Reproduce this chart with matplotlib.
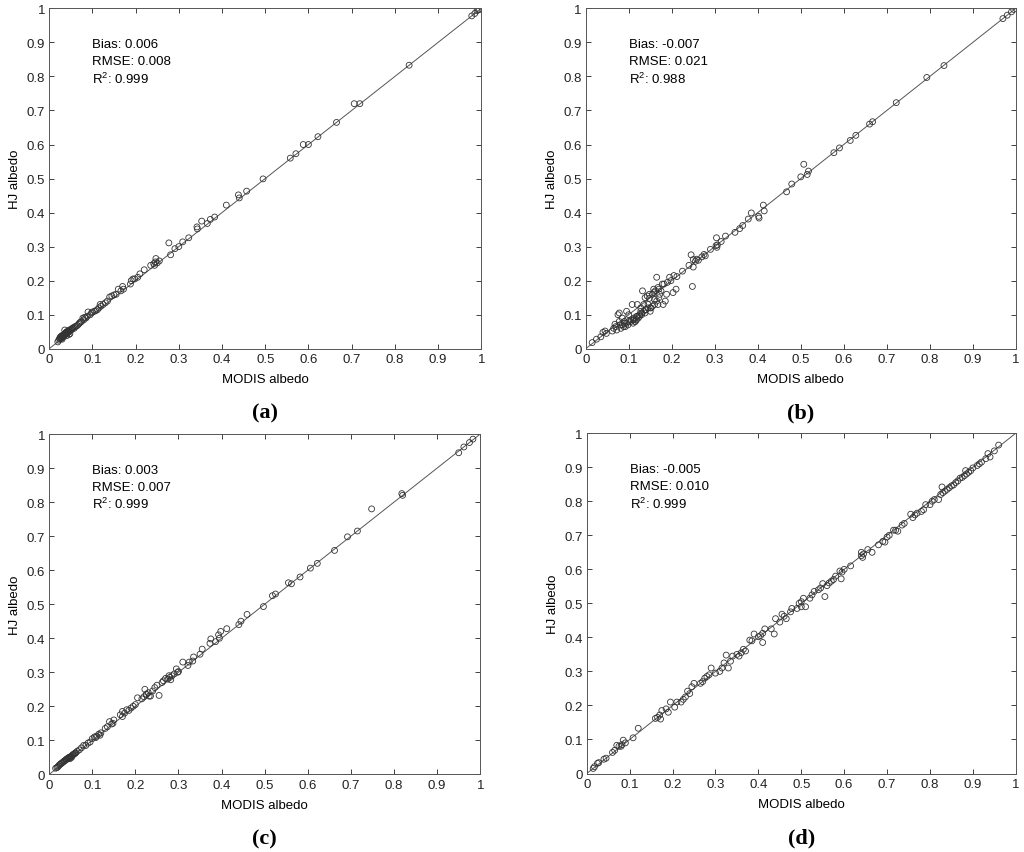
import matplotlib
matplotlib.use("Agg")
import matplotlib.pyplot as plt

plt.rcParams['font.family'] = ['Liberation Sans', 'DejaVu Sans']
plt.rcParams['mathtext.fontset'] = 'custom'
plt.rcParams['mathtext.rm'] = 'Liberation Sans'
plt.rcParams['mathtext.it'] = 'Liberation Sans:italic'

# ---------------------------------------------------------
# data (MODIS albedo, HJ albedo)

modis_a = [0.020, 0.022, 0.024, 0.025, 0.026, 0.027, 0.028, 0.029, 0.030, 0.031,
           0.032, 0.033, 0.034, 0.035, 0.036, 0.037, 0.038, 0.039, 0.040, 0.041,
           0.042, 0.043, 0.044, 0.045, 0.046, 0.048, 0.050, 0.052, 0.054, 0.056,
           0.058, 0.060, 0.062, 0.065, 0.068, 0.070, 0.072, 0.075, 0.078, 0.080,
           0.082, 0.085, 0.088, 0.090, 0.095, 0.098, 0.100, 0.105, 0.108, 0.112,
           0.115, 0.118, 0.120, 0.125, 0.130, 0.135, 0.140, 0.145, 0.150, 0.155,
           0.160, 0.166, 0.170, 0.172, 0.188, 0.190, 0.194, 0.198, 0.205, 0.210,
           0.220, 0.235, 0.242, 0.244, 0.246, 0.247, 0.250, 0.255, 0.277, 0.281,
           0.291, 0.300, 0.309, 0.323, 0.342, 0.343, 0.353, 0.366, 0.373, 0.383,
           0.410, 0.438, 0.440, 0.457, 0.495, 0.558, 0.571, 0.588, 0.600, 0.622,
           0.665, 0.706, 0.719, 0.833, 0.978, 0.985, 0.990, 0.993, 0.996,
           0.030, 0.034, 0.036, 0.040, 0.044, 0.048, 0.052, 0.038, 0.042, 0.046]
hj_a = [0.020, 0.025, 0.030, 0.028, 0.035, 0.030, 0.033, 0.038, 0.032, 0.036,
        0.040, 0.038, 0.042, 0.040, 0.055, 0.045, 0.043, 0.048, 0.045, 0.050,
        0.046, 0.048, 0.052, 0.050, 0.055, 0.053, 0.055, 0.058, 0.060, 0.062,
        0.060, 0.065, 0.066, 0.068, 0.072, 0.075, 0.078, 0.080, 0.090, 0.085,
        0.092, 0.090, 0.095, 0.108, 0.100, 0.105, 0.108, 0.110, 0.112, 0.115,
        0.120, 0.130, 0.125, 0.130, 0.135, 0.140, 0.152, 0.155, 0.158, 0.160,
        0.175, 0.170, 0.183, 0.175, 0.190, 0.200, 0.205, 0.205, 0.210, 0.220,
        0.232, 0.245, 0.250, 0.245, 0.255, 0.265, 0.252, 0.258, 0.311, 0.276,
        0.294, 0.300, 0.314, 0.326, 0.358, 0.352, 0.375, 0.368, 0.380, 0.387,
        0.422, 0.452, 0.443, 0.463, 0.499, 0.560, 0.573, 0.600, 0.600, 0.623,
        0.665, 0.720, 0.720, 0.833, 0.978, 0.985, 0.993, 0.996, 0.997,
        0.028, 0.036, 0.042, 0.038, 0.048, 0.044, 0.056, 0.046, 0.050, 0.042]

modis_b = [0.015, 0.025, 0.035, 0.040, 0.045, 0.048, 0.062, 0.065, 0.070, 0.072,
           0.075, 0.078, 0.080, 0.082, 0.085, 0.088, 0.090, 0.092, 0.095, 0.098,
           0.100, 0.105, 0.108, 0.110, 0.112, 0.115, 0.118, 0.120, 0.122, 0.125,
           0.128, 0.130, 0.132, 0.135, 0.138, 0.140, 0.143, 0.145, 0.148, 0.150,
           0.152, 0.155, 0.158, 0.160, 0.162, 0.165, 0.168, 0.170, 0.175, 0.178,
           0.180, 0.185, 0.190, 0.195, 0.198, 0.203, 0.205, 0.210, 0.212, 0.225,
           0.240, 0.245, 0.248, 0.250, 0.250, 0.255, 0.258, 0.262, 0.270, 0.275,
           0.278, 0.290, 0.303, 0.304, 0.305, 0.306, 0.315, 0.325, 0.347, 0.358,
           0.365, 0.378, 0.385, 0.402, 0.403, 0.413, 0.415, 0.467, 0.479, 0.500,
           0.507, 0.515, 0.518, 0.577, 0.590, 0.615, 0.628, 0.660, 0.667, 0.722,
           0.793, 0.833, 0.970, 0.980, 0.990, 0.995,
           0.105, 0.110, 0.115, 0.120, 0.125, 0.130, 0.135, 0.140, 0.145, 0.150,
           0.155, 0.160, 0.165, 0.170, 0.100, 0.095, 0.090, 0.112, 0.118, 0.128,
           0.138, 0.148, 0.158, 0.168, 0.172, 0.182, 0.188, 0.085, 0.078, 0.068]
hj_b = [0.018, 0.028, 0.035, 0.048, 0.052, 0.045, 0.052, 0.060, 0.065, 0.055,
        0.100, 0.105, 0.070, 0.060, 0.090, 0.065, 0.075, 0.065, 0.110, 0.070,
        0.100, 0.085, 0.130, 0.075, 0.090, 0.080, 0.085, 0.130, 0.090, 0.095,
        0.120, 0.100, 0.170, 0.130, 0.105, 0.115, 0.155, 0.130, 0.148, 0.110,
        0.120, 0.160, 0.175, 0.145, 0.170, 0.210, 0.130, 0.175, 0.170, 0.190,
        0.130, 0.140, 0.195, 0.210, 0.200, 0.165, 0.215, 0.175, 0.212, 0.228,
        0.245, 0.276, 0.183, 0.240, 0.262, 0.257, 0.263, 0.260, 0.270, 0.277,
        0.273, 0.292, 0.303, 0.326, 0.298, 0.305, 0.315, 0.331, 0.342, 0.353,
        0.362, 0.381, 0.399, 0.389, 0.384, 0.422, 0.405, 0.461, 0.484, 0.505,
        0.542, 0.512, 0.522, 0.576, 0.590, 0.612, 0.627, 0.660, 0.667, 0.723,
        0.797, 0.832, 0.970, 0.980, 0.990, 0.997,
        0.080, 0.085, 0.080, 0.095, 0.100, 0.105, 0.110, 0.115, 0.120, 0.120,
        0.125, 0.130, 0.140, 0.150, 0.080, 0.075, 0.080, 0.085, 0.095, 0.110,
        0.150, 0.160, 0.165, 0.180, 0.160, 0.190, 0.160, 0.070, 0.080, 0.072]

modis_c = [0.015, 0.018, 0.020, 0.022, 0.024, 0.026, 0.028, 0.030, 0.032, 0.034,
           0.036, 0.038, 0.040, 0.042, 0.044, 0.046, 0.048, 0.050, 0.052, 0.054,
           0.056, 0.058, 0.060, 0.062, 0.065, 0.070, 0.075, 0.080, 0.085, 0.090,
           0.095, 0.100, 0.105, 0.110, 0.115, 0.120, 0.130, 0.135, 0.140, 0.145,
           0.150, 0.165, 0.170, 0.170, 0.175, 0.180, 0.185, 0.190, 0.195, 0.200,
           0.205, 0.215, 0.220, 0.222, 0.225, 0.230, 0.235, 0.240, 0.245, 0.250,
           0.255, 0.262, 0.265, 0.270, 0.275, 0.280, 0.285, 0.290, 0.295, 0.300,
           0.310, 0.322, 0.325, 0.333, 0.335, 0.350, 0.355, 0.373, 0.375, 0.386,
           0.393, 0.395, 0.398, 0.412, 0.440, 0.445, 0.459, 0.497, 0.518, 0.525,
           0.555, 0.562, 0.582, 0.606, 0.622, 0.662, 0.692, 0.715, 0.748, 0.818,
           0.820, 0.950, 0.962, 0.975, 0.983,
           0.040, 0.045, 0.050, 0.055, 0.060, 0.048, 0.052, 0.226, 0.232, 0.278,
           0.282, 0.298, 0.108, 0.118, 0.148]
hj_c = [0.018, 0.020, 0.022, 0.025, 0.028, 0.030, 0.032, 0.034, 0.036, 0.038,
        0.040, 0.042, 0.044, 0.046, 0.048, 0.050, 0.050, 0.052, 0.054, 0.056,
        0.058, 0.060, 0.062, 0.064, 0.068, 0.072, 0.078, 0.085, 0.085, 0.092,
        0.095, 0.105, 0.110, 0.112, 0.118, 0.122, 0.135, 0.140, 0.155, 0.148,
        0.160, 0.175, 0.185, 0.170, 0.180, 0.190, 0.188, 0.195, 0.200, 0.205,
        0.225, 0.222, 0.228, 0.250, 0.235, 0.240, 0.230, 0.245, 0.255, 0.262,
        0.232, 0.270, 0.275, 0.282, 0.280, 0.285, 0.290, 0.295, 0.310, 0.302,
        0.330, 0.320, 0.330, 0.333, 0.345, 0.353, 0.368, 0.385, 0.398, 0.390,
        0.410, 0.400, 0.420, 0.428, 0.440, 0.450, 0.470, 0.493, 0.525, 0.530,
        0.563, 0.560, 0.580, 0.606, 0.620, 0.658, 0.698, 0.715, 0.780, 0.825,
        0.820, 0.945, 0.962, 0.975, 0.985,
        0.044, 0.048, 0.052, 0.058, 0.062, 0.046, 0.050, 0.235, 0.230, 0.290,
        0.278, 0.300, 0.108, 0.115, 0.150]

modis_d = [0.015, 0.018, 0.025, 0.028, 0.040, 0.045, 0.060, 0.065, 0.070, 0.075,
           0.080, 0.082, 0.085, 0.090, 0.108, 0.120, 0.160, 0.165, 0.170, 0.172,
           0.175, 0.185, 0.190, 0.195, 0.205, 0.210, 0.220, 0.225, 0.230, 0.235,
           0.240, 0.245, 0.250, 0.265, 0.270, 0.275, 0.280, 0.285, 0.290, 0.300,
           0.310, 0.315, 0.320, 0.325, 0.330, 0.335, 0.340, 0.350, 0.355, 0.360,
           0.365, 0.370, 0.380, 0.385, 0.390, 0.400, 0.405, 0.410, 0.410, 0.415,
           0.430, 0.437, 0.440, 0.450, 0.455, 0.460, 0.465, 0.475, 0.478, 0.490,
           0.495, 0.500, 0.500, 0.505, 0.510, 0.520, 0.525, 0.530, 0.540, 0.545,
           0.550, 0.555, 0.560, 0.565, 0.570, 0.575, 0.580, 0.593, 0.590, 0.595,
           0.600, 0.615, 0.640, 0.640, 0.643, 0.645, 0.655, 0.665, 0.680, 0.690,
           0.695, 0.700, 0.705, 0.715, 0.720, 0.725, 0.735, 0.740, 0.755, 0.760,
           0.765, 0.770, 0.780, 0.785, 0.790, 0.800, 0.805, 0.810, 0.820, 0.825,
           0.828, 0.830, 0.835, 0.840, 0.845, 0.850, 0.855, 0.860, 0.865, 0.870,
           0.875, 0.883, 0.880, 0.885, 0.890, 0.895, 0.900, 0.910, 0.915, 0.920,
           0.930, 0.935, 0.940, 0.950, 0.960]
hj_d = [0.015, 0.020, 0.030, 0.032, 0.042, 0.045, 0.062, 0.068, 0.083, 0.080,
        0.080, 0.085, 0.098, 0.090, 0.105, 0.133, 0.162, 0.165, 0.172, 0.160,
        0.185, 0.190, 0.180, 0.210, 0.195, 0.210, 0.210, 0.218, 0.225, 0.242,
        0.235, 0.255, 0.265, 0.265, 0.270, 0.280, 0.285, 0.290, 0.310, 0.295,
        0.300, 0.310, 0.325, 0.348, 0.310, 0.330, 0.345, 0.350, 0.345, 0.355,
        0.365, 0.360, 0.392, 0.390, 0.410, 0.402, 0.405, 0.385, 0.412, 0.425,
        0.425, 0.410, 0.455, 0.445, 0.468, 0.462, 0.455, 0.475, 0.485, 0.485,
        0.500, 0.490, 0.505, 0.515, 0.490, 0.515, 0.525, 0.535, 0.540, 0.545,
        0.558, 0.520, 0.552, 0.560, 0.565, 0.570, 0.580, 0.572, 0.595, 0.592,
        0.600, 0.610, 0.640, 0.650, 0.635, 0.645, 0.658, 0.650, 0.672, 0.682,
        0.680, 0.695, 0.700, 0.715, 0.715, 0.712, 0.730, 0.735, 0.762, 0.752,
        0.760, 0.765, 0.770, 0.775, 0.790, 0.790, 0.800, 0.805, 0.805, 0.820,
        0.842, 0.825, 0.830, 0.835, 0.840, 0.845, 0.848, 0.855, 0.860, 0.868,
        0.870, 0.890, 0.875, 0.880, 0.885, 0.890, 0.898, 0.905, 0.910, 0.915,
        0.925, 0.940, 0.930, 0.948, 0.965]

stats_a = ['Bias: 0.006', 'RMSE: 0.008', r'R$^{2}$: 0.999']
stats_b = ['Bias: -0.007', 'RMSE: 0.021', r'R$^{2}$: 0.988']
stats_c = ['Bias: 0.003', 'RMSE: 0.007', r'R$^{2}$: 0.999']
stats_d = ['Bias: -0.005', 'RMSE: 0.010', r'R$^{2}$: 0.999']

panel_labels = ['a', 'b', 'c', 'd']
ticks = [i / 10 for i in range(11)]
tick_labels = ['0', '0.1', '0.2', '0.3', '0.4', '0.5', '0.6', '0.7', '0.8', '0.9', '1']

#----------------------------------------------------------

def scatter_panel(rect, x, y, stats, label):
    ax = fig.add_axes(rect)
    ax.plot([0, 1], [0, 1], color='#555555', lw=0.7, zorder=1)
    ax.scatter(x, y, s=18, facecolors='none', edgecolors='#333333',
               linewidths=0.6, zorder=2)
    ax.set_xlim(0, 1)
    ax.set_ylim(0, 1)
    ax.set_xticks(ticks)
    ax.set_yticks(ticks)
    ax.set_xticklabels(tick_labels)
    ax.set_yticklabels(tick_labels)
    ax.tick_params(direction='in', length=3.5, width=0.6, top=True, right=True,
                   labelsize=9.5, colors='#222222', pad=3)
    for sp in ax.spines.values():
        sp.set_color('#555555')
        sp.set_linewidth(0.7)
    ax.set_xlabel('MODIS albedo', fontsize=9.5, labelpad=6)
    ax.set_ylabel('HJ albedo', fontsize=9.5, labelpad=4)
    for i, s in enumerate(stats):
        ax.text(0.1, 0.895 - 0.05 * i, s, fontsize=9.5, va='center', ha='left')
    # подпись панели под графиком
    fig.text(rect[0] + rect[2] / 2, rect[1] - 0.075, '(' + label + ')',
             ha='center', va='center', fontsize=16, fontweight='bold',
             family='Liberation Serif')
    return ax


fig = plt.figure(figsize=(10.24, 8.53), dpi=100)

scatter_panel([0.048, 0.590, 0.422, 0.399], modis_a, hj_a, stats_a, panel_labels[0])
scatter_panel([0.572, 0.590, 0.420, 0.399], modis_b, hj_b, stats_b, panel_labels[1])
scatter_panel([0.048, 0.091, 0.421, 0.399], modis_c, hj_c, stats_c, panel_labels[2])
scatter_panel([0.573, 0.092, 0.419, 0.399], modis_d, hj_d, stats_d, panel_labels[3])

fig.savefig('out.png', dpi=100)
